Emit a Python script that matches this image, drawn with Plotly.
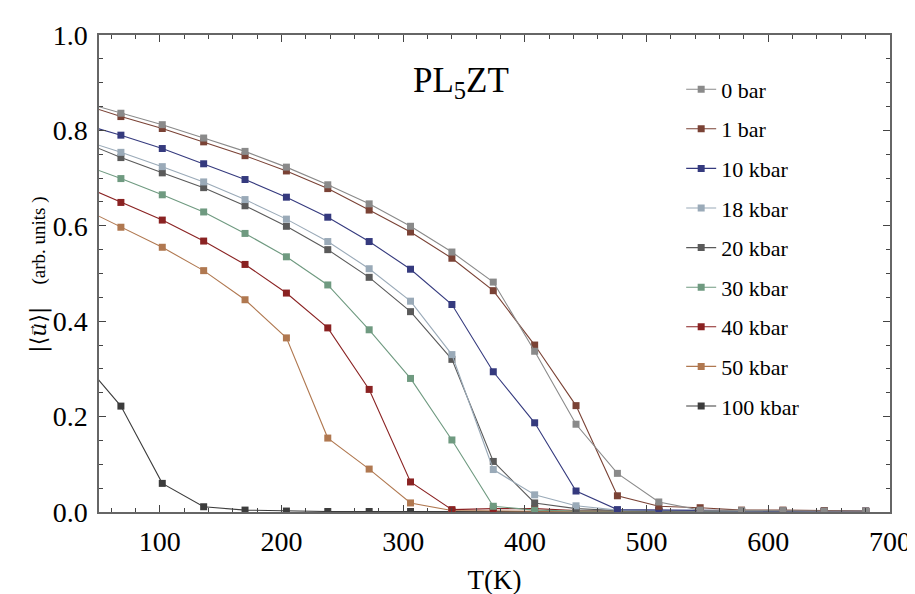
import plotly.graph_objects as go

# Temperature grid (K)
T = [34, 68, 102, 136, 170, 204, 238, 272, 306, 340, 374, 408, 442, 476, 510, 544, 578, 612, 646, 680]

series_names = ["0 bar", "1 bar", "10 kbar", "18 kbar", "20 kbar", "30 kbar", "40 kbar", "50 kbar", "100 kbar"]

u_0bar = [0.861, 0.836, 0.812, 0.784, 0.756, 0.723, 0.686, 0.646, 0.599, 0.545, 0.482, 0.337, 0.184, 0.081, 0.021, 0.004, 0.003, 0.003, 0.002, 0.002]
u_1bar = [0.857, 0.829, 0.804, 0.776, 0.747, 0.715, 0.678, 0.633, 0.587, 0.532, 0.464, 0.350, 0.223, 0.034, 0.012, 0.009, 0.004, 0.004, 0.003, 0.002]
u_10kbar = [0.815, 0.790, 0.762, 0.730, 0.697, 0.660, 0.618, 0.567, 0.509, 0.435, 0.294, 0.187, 0.044, 0.005, 0.004, 0.003, 0.003, 0.002, 0.002, 0.002]
u_18kbar = [0.782, 0.754, 0.724, 0.692, 0.655, 0.614, 0.567, 0.510, 0.442, 0.330, 0.089, 0.036, 0.013, 0.004, 0.003, 0.002, 0.002, 0.002, 0.002, 0.001]
u_20kbar = [0.779, 0.743, 0.711, 0.680, 0.642, 0.599, 0.550, 0.492, 0.420, 0.320, 0.106, 0.019, 0.007, 0.003, 0.002, 0.002, 0.002, 0.001, 0.001, 0.001]
u_30kbar = [0.731, 0.699, 0.665, 0.629, 0.584, 0.535, 0.476, 0.382, 0.280, 0.151, 0.012, 0.004, 0.002, 0.002, 0.001, 0.001, 0.001, 0.001, 0.001, 0.001]
u_40kbar = [0.687, 0.649, 0.612, 0.568, 0.519, 0.459, 0.386, 0.257, 0.063, 0.005, 0.007, 0.007, 0.003, 0.002, 0.001, 0.001, 0.001, 0.001, 0.001, 0.001]
u_50kbar = [0.640, 0.597, 0.555, 0.506, 0.445, 0.365, 0.155, 0.090, 0.019, 0.003, 0.002, 0.002, 0.001, 0.001, 0.001, 0.001, 0.001, 0.001, 0.001, 0.001]
u_100kbar = [0.324, 0.222, 0.060, 0.011, 0.004, 0.002, 0.001, 0.001, 0.001, 0.001, 0.001, 0.001, 0.001, 0.001, 0.001, 0.001, 0.001, 0.001, 0.001, 0.001]

series_values = [u_0bar, u_1bar, u_10kbar, u_18kbar, u_20kbar, u_30kbar, u_40kbar, u_50kbar, u_100kbar]

colors = ["#8a8a8a", "#7a4235", "#353a7e", "#9aaab8", "#5a5a5a", "#6f9a80", "#8a2222", "#b07850", "#3c3c3c"]

x_ticks = [100, 200, 300, 400, 500, 600, 700]
y_ticks = [0.0, 0.2, 0.4, 0.6, 0.8, 1.0]

FONT = "Liberation Serif, Times New Roman, DejaVu Serif, serif"

fig = go.Figure()
# draw in reverse so that the low-pressure curves sit on top
for i in reversed(range(len(series_names))):
    fig.add_trace(go.Scatter(
        x=T, y=series_values[i], name=series_names[i],
        mode="lines+markers",
        line=dict(color=colors[i], width=1.1),
        marker=dict(symbol="square", size=7, color=colors[i]),
        legendgroup=series_names[i],
        legendrank=i + 1,
        cliponaxis=True,
    ))

axis_common = dict(
    showline=True, linecolor="#666666", linewidth=1.5, mirror="allticks",
    ticks="inside", ticklen=7, tickwidth=1, tickcolor="#444444",
    showgrid=False, zeroline=False,
    tickfont=dict(family=FONT, size=28, color="black"),
)

fig.update_xaxes(
    range=[50, 700], tickvals=x_ticks, ticktext=[str(v) for v in x_ticks],
    minor=dict(ticks="inside", ticklen=4, dtick=20, tick0=0, tickcolor="#444444", showgrid=False),
    title=dict(text="T(K)", font=dict(family=FONT, size=27, color="black"), standoff=14),
    ticklabelstandoff=4,
    **axis_common,
)
fig.update_yaxes(
    range=[0, 1], tickvals=y_ticks, ticktext=["%.1f" % v for v in y_ticks],
    minor=dict(ticks="inside", ticklen=4, dtick=0.05, tick0=0, tickcolor="#444444", showgrid=False),
    ticklabelstandoff=4,
    **axis_common,
)

# y-axis title: |<u vec>|  (arb. units ), written as rotated annotations
fig.add_annotation(
    text="|\u27e8<i>u</i>\u27e9|", xref="paper", yref="paper", x=-0.0753, y=0.383,
    xanchor="center", yanchor="middle", textangle=-90, showarrow=False,
    font=dict(family="DejaVu Serif, serif", size=22, color="black"),
)
fig.add_annotation(
    text="\u2192", xref="paper", yref="paper", x=-0.0866, y=0.383,
    xanchor="center", yanchor="middle", textangle=-90, showarrow=False,
    font=dict(family=FONT, size=14, color="black"),
)
fig.add_annotation(
    text="(arb. units )", xref="paper", yref="paper", x=-0.0753, y=0.570,
    xanchor="center", yanchor="middle", textangle=-90, showarrow=False,
    font=dict(family=FONT, size=19, color="black"),
)

fig.add_annotation(
    text="PL<sub>5</sub>ZT", xref="paper", yref="paper", x=0.458, y=0.90,
    xanchor="center", yanchor="middle", showarrow=False,
    font=dict(family=FONT, size=35, color="black"),
)

fig.update_layout(
    width=915, height=594,
    margin=dict(l=91, r=27, t=20, b=83),
    paper_bgcolor="white", plot_bgcolor="white",
    showlegend=True,
    legend=dict(
        x=0.736, y=0.93, xanchor="left", yanchor="top",
        font=dict(family=FONT, size=22, color="black"),
        bgcolor="rgba(0,0,0,0)", tracegroupgap=8, itemwidth=30,
    ),
)

fig.write_html("out.html")
